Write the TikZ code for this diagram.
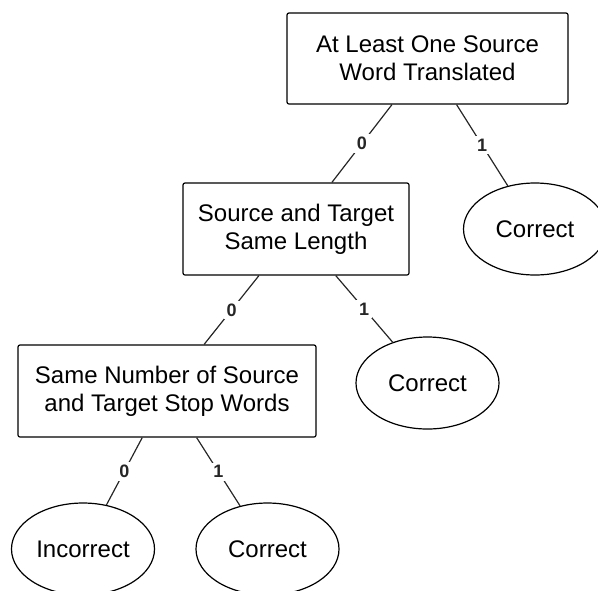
\documentclass[tikz,border=0pt]{standalone}
\usepackage{fontspec}
\setmainfont{Liberation Sans}
\usetikzlibrary{shapes.geometric}
\tikzset{
  every picture/.style={x=0.5pt,y=-0.5pt},
  box/.style={draw, line width=0.6pt, rounded corners=1pt, align=center,
    font=\fontsize{12}{14}\selectfont, inner sep=0pt},
  leaf/.style={draw, ellipse, line width=0.6pt, inner sep=0pt,
    minimum width=71.5pt, minimum height=46pt,
    font=\fontsize{12}{14}\selectfont},
  edge/.style={line width=0.6pt, draw=black!85},
  lab/.style={fill=white, inner sep=1.5pt, font=\fontsize{9}{10}\selectfont\bfseries, text=black!85}
}
\begin{document}
\begin{tikzpicture}
\clip (0,0) rectangle (598,590);
\node[box, minimum width=140.5pt, minimum height=45.5pt] (top) at (427.5,58.5)
  {At Least One Source\\Word Translated};
\node[box, minimum width=113pt, minimum height=46pt] (b2) at (296,229)
  {Source and Target\\Same Length};
\node[box, minimum width=149pt, minimum height=46pt] (b3) at (167,391)
  {Same Number of Source\\and Target Stop Words};
\node[leaf] (c1) at (535,229) {Correct};
\node[leaf] (c2) at (427.5,383) {Correct};
\node[leaf] (inc) at (83,549) {Incorrect};
\node[leaf] (c3) at (267.5,549) {Correct};
\draw[edge] (top) -- node[lab] {0} (b2);
\draw[edge] (top) -- node[lab] {1} (c1);
\draw[edge] (b2) -- node[lab] {0} (b3);
\draw[edge] (b2) -- node[lab] {1} (c2);
\draw[edge] (b3) -- node[lab] {0} (inc);
\draw[edge] (b3) -- node[lab] {1} (c3);
\end{tikzpicture}
\end{document}
